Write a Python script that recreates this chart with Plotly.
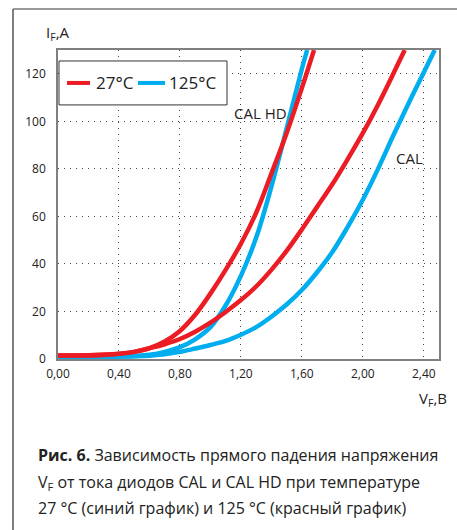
import plotly.graph_objects as go

# ---- data (V_F in volts, I_F in amperes) ----
hd27_v = [0.00, 0.20, 0.40, 0.50, 0.60, 0.70, 0.80, 0.90, 1.00, 1.10, 1.20, 1.30, 1.40, 1.50, 1.60, 1.68]
hd27_i = [1.5, 1.6, 2.2, 3.0, 4.6, 7.4, 11.8, 18.6, 27.5, 37.5, 48.5, 61.5, 78, 95, 114, 130]

hd125_v = [0.00, 0.40, 0.60, 0.70, 0.80, 0.90, 1.00, 1.10, 1.20, 1.30, 1.40, 1.50, 1.60, 1.635]
hd125_i = [0.9, 1.0, 1.8, 3.0, 5.0, 8.3, 13.4, 22.5, 35, 51, 72.5, 97, 122, 130]

cal27_v = [0.00, 0.30, 0.50, 0.60, 0.70, 0.80, 0.90, 1.00, 1.10, 1.20, 1.30, 1.40, 1.50,
           1.60, 1.70, 1.80, 1.90, 2.00, 2.10, 2.20, 2.275]
cal27_i = [1.5, 1.7, 3.0, 4.5, 6.2, 8.4, 11.5, 15.3, 19.8, 24.8, 30.5, 37.5, 45.5,
           54.5, 64, 73.5, 84, 95, 107, 120, 130]

cal125_v = [0.00, 0.40, 0.60, 0.70, 0.80, 0.90, 1.00, 1.10, 1.20, 1.30, 1.40, 1.50, 1.60,
            1.70, 1.80, 1.90, 2.00, 2.10, 2.20, 2.30, 2.40, 2.472]
cal125_i = [0.9, 1.0, 1.4, 2.0, 3.0, 4.4, 5.9, 7.6, 10.2, 13.4, 17.8, 22.9, 29.0,
            36.5, 45, 55.5, 67, 80, 94, 107.5, 120.5, 130]

x_ticks = [0.0, 0.4, 0.8, 1.2, 1.6, 2.0, 2.4]
x_ticktext = ["0,00", "0,40", "0,80", "1,20", "1,60", "2,00", "2,40"]
y_ticks = [0, 20, 40, 60, 80, 100, 120]

legend_27 = "27°C"
legend_125 = "125°C"
label_hd = "CAL HD"
label_cal = "CAL"
caption_lines = [
    "<b>Рис. 6.</b> Зависимость прямого падения напряжения",
    "V<sub>F</sub> от тока диодов CAL и CAL HD при температуре",
    "27 °C (синий график) и 125 °C (красный график)",
]

RED = "#ec1c24"
BLUE = "#00aeef"
FONT = "Open Sans"
TXT = "#222"

W, H = 457, 530
L, R, T, B = 58, 439, 50, 359.5


def px_x(p):
    return (p - L) / (R - L)


def px_y(p):
    return (B - p) / (B - T)


fig = go.Figure()
for v, i, name in [
    (hd125_v, hd125_i, legend_125),
    (cal125_v, cal125_i, legend_125),
    (hd27_v, hd27_i, legend_27),
    (cal27_v, cal27_i, legend_27),
]:
    fig.add_trace(go.Scatter(
        x=v, y=i, mode="lines", name=name, showlegend=False,
        line=dict(color=RED if name == legend_27 else BLUE, width=4.5, shape="spline", smoothing=1.0),
        hoverinfo="skip",
    ))

axis_common = dict(
    showgrid=True, gridcolor="#444", gridwidth=1, griddash="1px,5px",
    zeroline=False, showline=True, linecolor="#7f7f7f", linewidth=1.5, mirror=True,
    ticks="", tickfont=dict(family=FONT, size=12, color=TXT), automargin=False,
)
fig.update_xaxes(range=[0, 2.5], tickvals=x_ticks, ticktext=x_ticktext, ticklabelstandoff=3, **axis_common)
fig.update_yaxes(range=[0, 130], tickvals=y_ticks, ticklabelstandoff=8, **axis_common)

annotations = [
    dict(text="I<sub>F</sub>,A", x=px_x(44), y=px_y(33), xanchor="left", yanchor="middle",
         font=dict(family=FONT, size=15, color=TXT)),
    dict(text="V<sub>F</sub>,B", x=px_x(417), y=px_y(400), xanchor="left", yanchor="middle",
         font=dict(family=FONT, size=15, color=TXT)),
    dict(text=label_hd, x=px_x(260), y=px_y(113), xanchor="center", yanchor="middle",
         font=dict(family=FONT, size=15, color=TXT)),
    dict(text=label_cal, x=px_x(409), y=px_y(158), xanchor="center", yanchor="middle",
         font=dict(family=FONT, size=15, color=TXT)),
    # legend texts
    dict(text=legend_27, x=px_x(94), y=px_y(83), xanchor="left", yanchor="middle",
         font=dict(family=FONT, size=17, color=TXT)),
    dict(text=legend_125, x=px_x(167), y=px_y(83), xanchor="left", yanchor="middle",
         font=dict(family=FONT, size=17, color=TXT)),
]
for line, yc in zip(caption_lines, [456, 483, 509]):
    annotations.append(dict(text=line, x=px_x(36), y=px_y(yc), xanchor="left", yanchor="middle",
                            font=dict(family=FONT, size=16, color=TXT)))
for a in annotations:
    a.update(xref="paper", yref="paper", showarrow=False)

shapes = [
    # outer frame (left and top)
    dict(type="line", x0=px_x(13), x1=px_x(13), y0=px_y(9), y1=px_y(531),
         line=dict(color="#555", width=1.5)),
    dict(type="line", x0=px_x(13), x1=px_x(458), y0=px_y(9), y1=px_y(9),
         line=dict(color="#777", width=1.5)),
    # legend box and swatches
    dict(type="rect", x0=px_x(59), x1=px_x(227), y0=px_y(61), y1=px_y(105),
         line=dict(color="#333", width=1), fillcolor="white", layer="above"),
    dict(type="line", x0=px_x(67), x1=px_x(90), y0=px_y(83), y1=px_y(83),
         line=dict(color=RED, width=4), layer="above"),
    dict(type="line", x0=px_x(138), x1=px_x(165), y0=px_y(83), y1=px_y(83),
         line=dict(color=BLUE, width=4), layer="above"),
]
for s in shapes:
    s.update(xref="paper", yref="paper")

fig.update_layout(
    width=W, height=H,
    margin=dict(l=L, r=W - R, t=T, b=H - B, pad=0, autoexpand=False),
    paper_bgcolor="white", plot_bgcolor="white",
    font=dict(family=FONT, color=TXT),
    showlegend=False,
    annotations=annotations,
    shapes=shapes,
)

fig.write_html("out.html", config={"displayModeBar": False},
               post_script="document.body.style.margin='0px';")
